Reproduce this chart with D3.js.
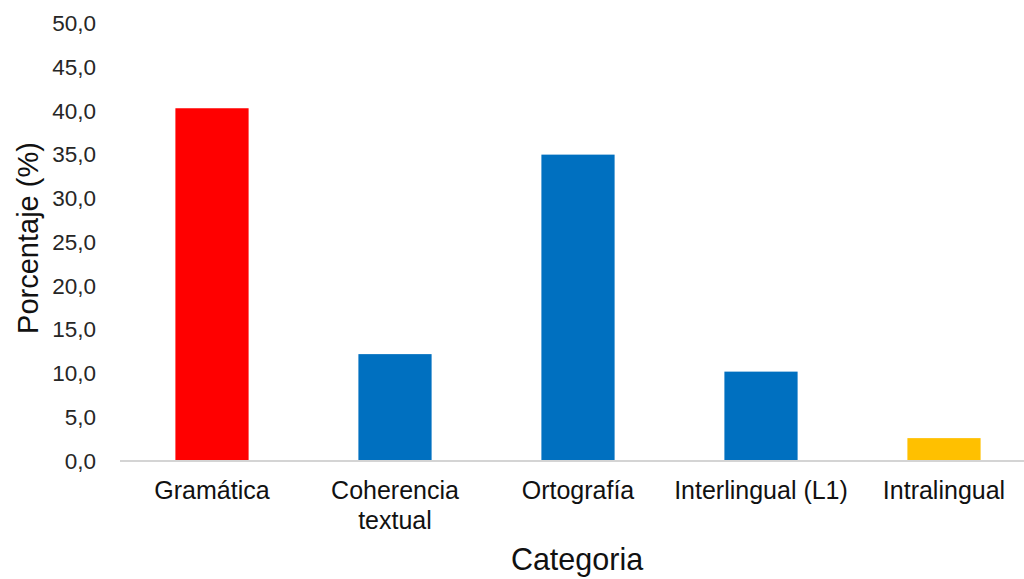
<!DOCTYPE html>
<html>
<head>
<meta charset="utf-8">
<script src="https://cdn.jsdelivr.net/npm/d3@7"></script>
<style>
  html, body { margin: 0; padding: 0; background: #fff; }
  svg { display: block; font-family: "Liberation Sans", Arial, sans-serif; }
</style>
</head>
<body>
<div id="container"></div>
<script>
const categories = ['Gramática', 'Coherencia textual', 'Ortografía', 'Interlingual (L1)', 'Intralingual'];
const tickLabels = [['Gramática'], ['Coherencia', 'textual'], ['Ortografía'], ['Interlingual (L1)'], ['Intralingual']];
const values = [40.2, 12.1, 34.9, 10.1, 2.5];
const barColors = ['#FF0000', '#0070C0', '#0070C0', '#0070C0', '#FFC000'];
const yTicks = [0, 5, 10, 15, 20, 25, 30, 35, 40, 45, 50];

const width = 1024;
const height = 579;

const svg = d3.select('#container')
  .append('svg')
  .attr('width', width)
  .attr('height', height);

const xScale = d3.scaleBand()
  .domain(categories)
  .range([120.5, 1035.5])
  .paddingInner(0.6)
  .paddingOuter(0.3);

const yScale = d3.scaleLinear()
  .domain([0, 50])
  .range([460, 22.5]);

const fmt = (d) => d3.format('.1f')(d).replace('.', ',');

// y axis (labels only)
const yAxis = svg.append('g')
  .attr('transform', 'translate(96,0)')
  .call(d3.axisLeft(yScale).tickValues(yTicks).tickSize(0).tickPadding(0).tickFormat(fmt));
yAxis.select('.domain').remove();
yAxis.selectAll('text')
  .attr('fill', '#262626')
  .style('font-size', '22.5px')
  .attr('dy', '0.36em');

// bars
svg.append('g')
  .selectAll('rect')
  .data(values)
  .join('rect')
  .attr('x', (d, i) => xScale(categories[i]))
  .attr('y', (d) => yScale(d))
  .attr('width', xScale.bandwidth())
  .attr('height', (d) => yScale(0) - yScale(d))
  .attr('fill', (d, i) => barColors[i]);

// x axis
const xAxis = svg.append('g')
  .attr('transform', `translate(0,${yScale(0) + 1})`)
  .call(d3.axisBottom(xScale).tickSize(0).tickPadding(0));
xAxis.select('.domain')
  .attr('d', 'M120,0H1040')
  .attr('stroke', '#D4D4D4')
  .attr('stroke-width', 2.2);
xAxis.selectAll('.tick text').each(function (d, i) {
  const t = d3.select(this);
  t.text(null)
    .attr('fill', '#111')
    .attr('dy', null)
    .attr('y', 38)
    .style('font-size', '25px');
  tickLabels[i].forEach((line, j) => {
    t.append('tspan')
      .attr('x', 0)
      .attr('dy', j === 0 ? 0 : 30)
      .text(line);
  });
});

// axis titles
svg.append('text')
  .attr('x', 577)
  .attr('y', 570)
  .attr('text-anchor', 'middle')
  .attr('fill', '#111')
  .style('font-size', '30.5px')
  .text('Categoria');

svg.append('text')
  .attr('transform', 'translate(38,238) rotate(-90)')
  .attr('text-anchor', 'middle')
  .attr('fill', '#111')
  .style('font-size', '29px')
  .text('Porcentaje (%)');
</script>
</body>
</html>
